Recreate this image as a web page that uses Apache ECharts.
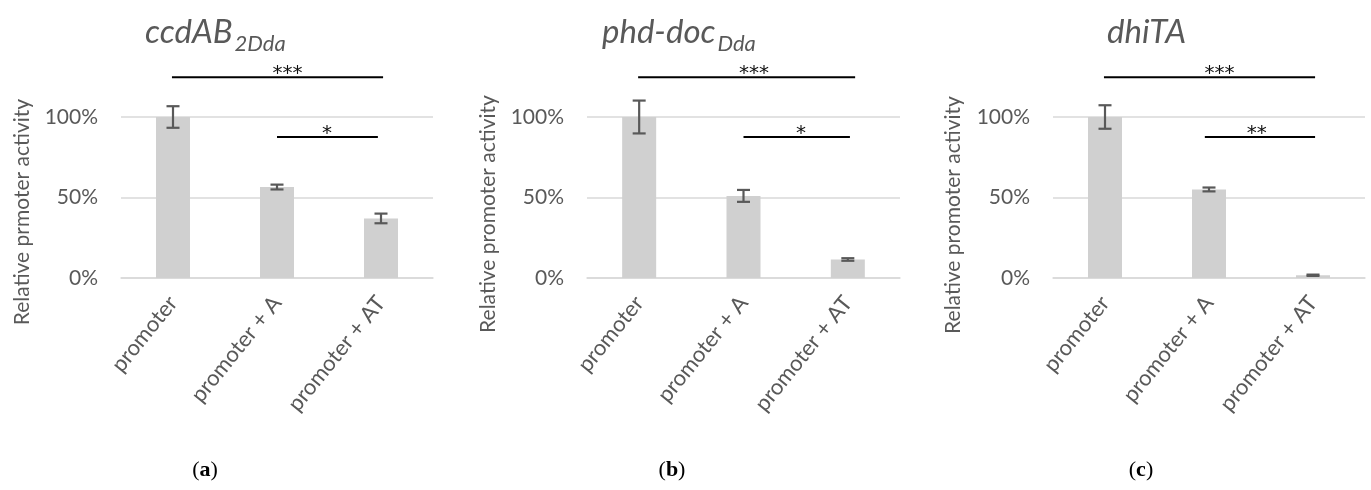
<!DOCTYPE html>
<html><head><meta charset="utf-8">
<script src="https://cdn.jsdelivr.net/npm/echarts@6/dist/echarts.min.js"></script>
<style>html,body{margin:0;padding:0;background:#fff}#c{width:1371px;height:490px}</style>
</head><body><div id="c"></div>
<script>
var categories = ['promoter', 'promoter + A', 'promoter + AT'];
var valuesA = [100, 56.5, 37];
var errA = [6.7, 1.5, 3];
var valuesB = [100, 51, 11.5];
var errB = [10.2, 3.7, 0.8];
var valuesC = [100, 55, 1.7];
var errC = [7.3, 1.2, 0.4];
var yTicks = [0, 50, 100];
// significance brackets: [x start, x end, y, label x] in category units
var sigA = [[-0.01, 2.02, 124.7, 1.1], [1.0, 1.97, 87.6, 1.48]];
var sigB = [[-0.01, 2.07, 124.7, 1.1], [1.0, 2.02, 87.6, 1.55]];
var sigC = [[-0.01, 2.02, 124.7, 1.1], [0.96, 2.02, 87.6, 1.46]];
var sigLabelsA = ['***', '*'];
var sigLabelsB = ['***', '*'];
var sigLabelsC = ['***', '**'];
var yTitles = ['Relative prmoter activity', 'Relative promoter activity', 'Relative promoter activity'];
var titleMain = ['ccdAB', 'phd-doc', 'dhiTA'];
var titleSub = ['2Dda', 'Dda', ''];
var panelLetters = ['a', 'b', 'c'];

var values = [valuesA, valuesB, valuesC];
var errs = [errA, errB, errC];
var sigs = [sigA, sigB, sigC];
var sigLabels = [sigLabelsA, sigLabelsB, sigLabelsC];

var FONT = 'Lato';
var GRAY = '#595959';
var grids = [
  {left: 121, top: 36.5, width: 312, height: 241.5},
  {left: 587, top: 36.5, width: 313, height: 241.5},
  {left: 1053, top: 36.5, width: 312, height: 241.5}
];
var xAxes = [], yAxes = [], series = [];
for (var i = 0; i < 3; i++) {
  xAxes.push({
    type: 'category', gridIndex: i, data: categories,
    axisTick: {show: false},
    axisLine: {show: true, lineStyle: {color: '#d9d9d9', width: 1.5}},
    axisLabel: {rotate: 51, color: GRAY, fontFamily: FONT, fontSize: 22, margin: 21, interval: 0}
  });
  xAxes.push({type: 'value', gridIndex: i, min: -0.5, max: 2.5, show: false});
  yAxes.push({
    type: 'value', gridIndex: i, min: 0, max: 150, interval: 50,
    axisLine: {show: false}, axisTick: {show: false},
    axisLabel: {color: GRAY, fontFamily: FONT, fontSize: 21, margin: 23, showMaxLabel: false,
      formatter: function (v) { return yTicks.indexOf(v) >= 0 ? v + '%' : ''; }},
    splitLine: {show: true, showMaxLine: false, lineStyle: {color: '#d9d9d9', width: 1.5}}
  });
  series.push({
    type: 'bar', xAxisIndex: 2 * i, yAxisIndex: i, barWidth: 34,
    itemStyle: {color: '#d0d0d0'}, data: values[i], silent: true
  });
  series.push({
    type: 'custom', xAxisIndex: 2 * i, yAxisIndex: i, z: 5, silent: true,
    data: values[i].map(function (v, k) { return [k, v - errs[i][k], v + errs[i][k]]; }),
    renderItem: function (params, api) {
      var lo = api.coord([api.value(0), api.value(1)]);
      var hi = api.coord([api.value(0), api.value(2)]);
      var w = 6.5;
      var st = {stroke: '#595959', lineWidth: 2.2};
      return {type: 'group', children: [
        {type: 'line', shape: {x1: hi[0], y1: hi[1], x2: lo[0], y2: lo[1]}, style: st},
        {type: 'line', shape: {x1: hi[0] - w, y1: hi[1], x2: hi[0] + w, y2: hi[1]}, style: st},
        {type: 'line', shape: {x1: lo[0] - w, y1: lo[1], x2: lo[0] + w, y2: lo[1]}, style: st}
      ]};
    }
  });
  (function (idx) {
    series.push({
      type: 'custom', xAxisIndex: 2 * idx + 1, yAxisIndex: idx, z: 6, silent: true,
      data: sigs[idx],
      renderItem: function (params, api) {
        var p1 = api.coord([api.value(0), api.value(2)]);
        var p2 = api.coord([api.value(1), api.value(2)]);
        var pl = api.coord([api.value(3), api.value(2)]);
        return {type: 'group', children: [
          {type: 'line', shape: {x1: p1[0], y1: p1[1], x2: p2[0], y2: p2[1]}, style: {stroke: '#000', lineWidth: 2}},
          {type: 'text', x: pl[0], y: pl[1] - 3, style: {text: sigLabels[idx][params.dataIndex], fill: '#111',
            font: '20px "DejaVu Sans"', align: 'center', verticalAlign: 'middle'}}
        ]};
      }
    });
  })(i);
}

var measure = document.createElement('canvas').getContext('2d');
function textWidth(txt, font) { measure.font = font; return measure.measureText(txt).width; }

var graphics = [];
var yTitlePos = [[22, 212], [488, 214], [953, 215]];
for (var j = 0; j < 3; j++) {
  graphics.push({type: 'text', x: yTitlePos[j][0], y: yTitlePos[j][1], rotation: Math.PI / 2,
    style: {text: yTitles[j], fill: GRAY, font: '21px ' + FONT, align: 'center', verticalAlign: 'middle'}});
}
var titleX = [145, 602, 1107];
var mainFont = 'italic 33px ' + FONT;
var subFont = 'italic 22px ' + FONT;
for (var t = 0; t < 3; t++) {
  graphics.push({type: 'text', x: titleX[t], y: 32,
    style: {text: titleMain[t], fill: GRAY, font: mainFont, align: 'left', verticalAlign: 'middle'}});
  if (titleSub[t]) {
    graphics.push({type: 'text', x: titleX[t] + textWidth(titleMain[t], mainFont) + 2, y: 44,
      style: {text: titleSub[t], fill: GRAY, font: subFont, align: 'left', verticalAlign: 'middle'}});
  }
}
var letterX = [205, 672, 1141];
for (var q = 0; q < 3; q++) {
  graphics.push({type: 'text', x: letterX[q], y: 470,
    style: {text: '{p|(}{b|' + panelLetters[q] + '}{p|)}', align: 'center', verticalAlign: 'middle',
      rich: {p: {fontFamily: 'Liberation Serif', fontSize: 22, fill: '#000'},
             b: {fontFamily: 'Liberation Serif', fontSize: 22, fontWeight: 'bold', fill: '#000'}}}});
}

var chart = echarts.init(document.getElementById('c'), null, {renderer: 'canvas'});
chart.setOption({
  animation: false,
  grid: grids, xAxis: xAxes, yAxis: yAxes, series: series, graphic: graphics
});
</script></body></html>
